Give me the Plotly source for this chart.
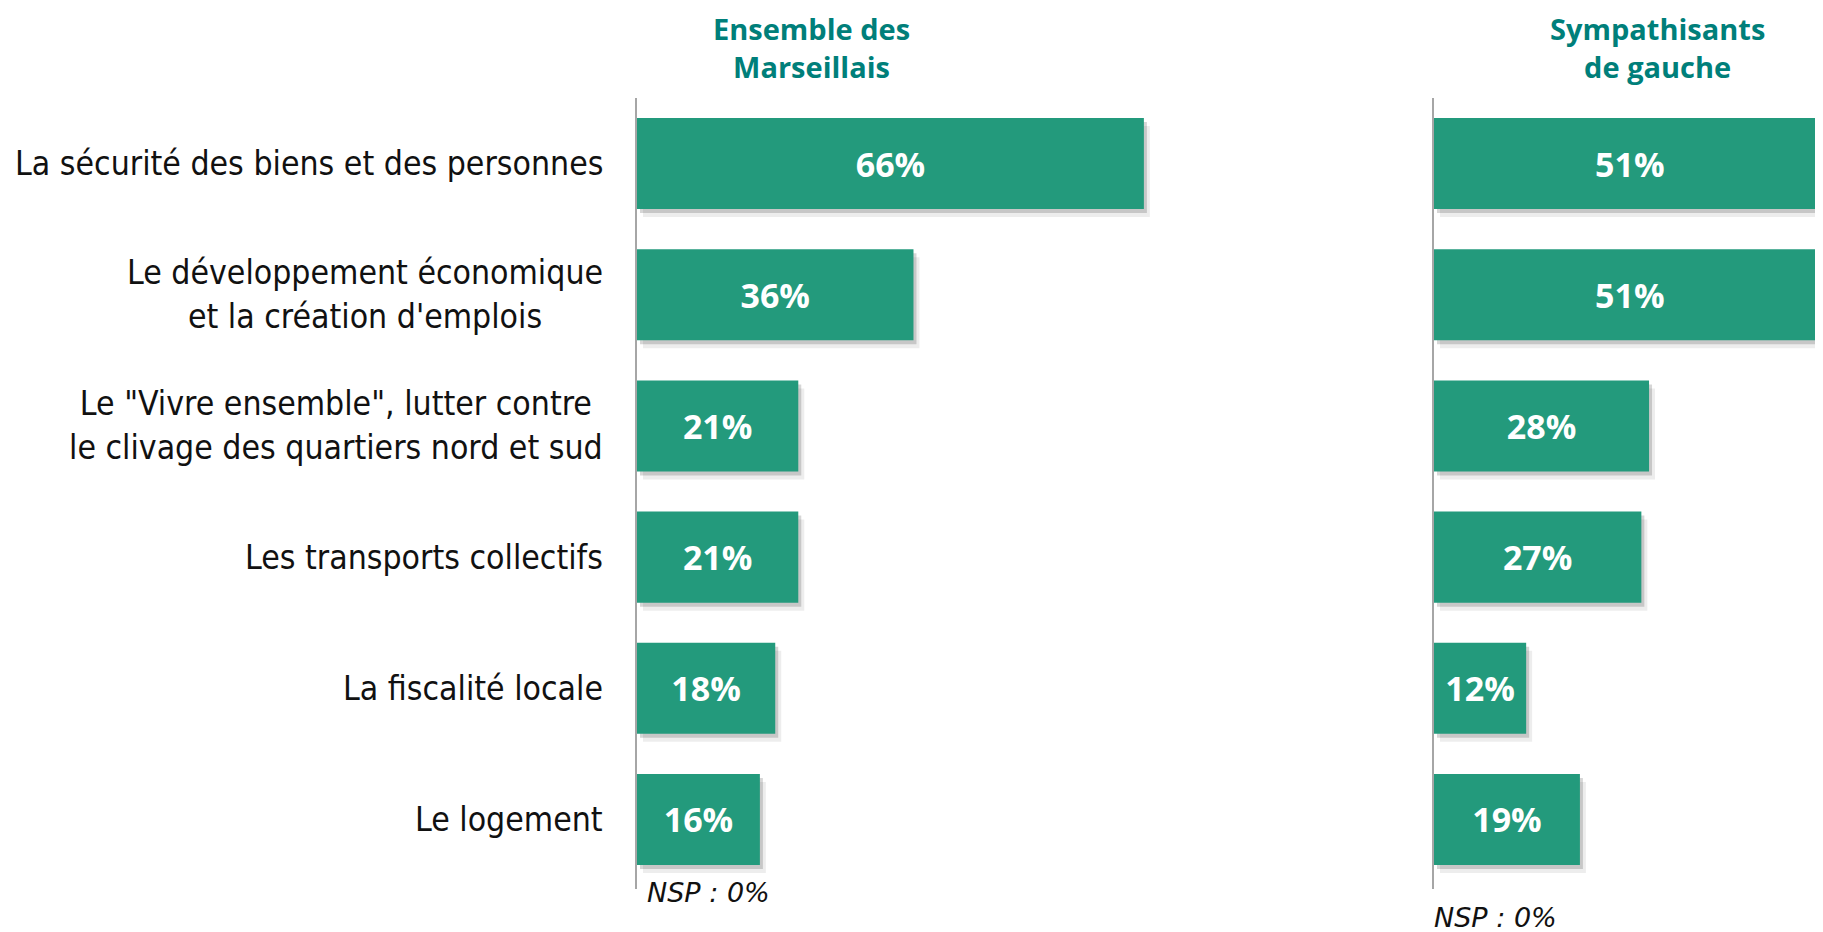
import plotly.graph_objects as go

W, H = 1823, 932
OFF = 8  # page body margin of the html page
FW, FH = W - OFF, H - OFF

categories = [
    "La sécurité des biens et des personnes",
    "Le développement économique<br>et la création d'emplois",
    "Le \"Vivre ensemble\", lutter contre<br>le clivage des quartiers nord et sud",
    "Les transports collectifs",
    "La fiscalité locale",
    "Le logement",
]
ensemble_values = [66, 36, 21, 21, 18, 16]
gauche_values = [51, 51, 28, 27, 12, 19]
panel_titles = ["Ensemble des<br>Marseillais", "Sympathisants<br>de gauche"]
nsp_text = "NSP : 0%"

BAR = "#239A7C"
TEAL = "#007F7A"
AXIS = "#A6A6A6"
LABEL_FONT = "Tahoma, 'DejaVu Sans Condensed', 'Liberation Sans', sans-serif"

px_per_pct = 7.68
left_x0, left_x1 = 637, 1150
right_x0 = 1434
y_top, y_bot = 98, 889
y_extra = 0.53
n = len(categories)
cat_px = (y_bot - y_top) / (n - 1 + y_extra + 0.5)
bar_w = 0.694


def px(x):
    return (x - OFF) / FW


def py(y):
    return 1 - (y - OFF) / FH


fig = go.Figure()
ypos = list(range(n))
for vals, xa, ya in [(ensemble_values, "x", "y"), (gauche_values, "x2", "y2")]:
    # soft drop shadow (two translucent layers behind the bars)
    for dx, dy, alpha in [(6, 8, 0.07), (3, 4, 0.16)]:
        fig.add_trace(go.Bar(
            y=ypos, x=vals, base=dx / px_per_pct, orientation="h",
            xaxis=xa, yaxis=ya, width=bar_w, offset=-bar_w / 2 + dy / cat_px,
            marker=dict(color=f"rgba(0,0,0,{alpha})", line=dict(width=0)),
            hoverinfo="skip", showlegend=False,
        ))
    fig.add_trace(go.Bar(
        y=ypos, x=vals, orientation="h",
        xaxis=xa, yaxis=ya, width=bar_w, offset=-bar_w / 2,
        marker=dict(color=BAR, line=dict(width=0)),
        texttemplate="%{x}%", textposition="inside", insidetextanchor="middle",
        constraintext="none",
        textfont=dict(color="white", size=34, family="'Open Sans', sans-serif", weight="bold"),
        cliponaxis=True, hoverinfo="skip", showlegend=False,
    ))

yax = dict(range=[n - 1 + y_extra, -0.5], domain=[py(y_bot), py(y_top)],
           showline=True, linecolor=AXIS, linewidth=2, showticklabels=False,
           showgrid=False, zeroline=False, ticks="")
fig.update_layout(
    width=FW, height=FH, margin=dict(l=0, r=0, t=0, b=0),
    paper_bgcolor="white", plot_bgcolor="white", barmode="overlay",
    xaxis=dict(domain=[px(left_x0), px(left_x1)], range=[0, (left_x1 - left_x0) / px_per_pct],
               visible=False, anchor="y"),
    xaxis2=dict(domain=[px(right_x0), 1.0], range=[0, (W - right_x0) / px_per_pct],
                visible=False, anchor="y2"),
    yaxis=dict(anchor="x", **yax),
    yaxis2=dict(anchor="x2", **yax),
)

# category labels
for i, lab in enumerate(categories):
    fig.add_annotation(text=lab, xref="paper", x=px(605), xanchor="right", align="center",
                       yref="y", y=i, yanchor="middle", showarrow=False,
                       font=dict(size=33.5, color="#111111", family=LABEL_FONT))

# panel titles
for t, cx in zip(panel_titles, [811, 1657]):
    fig.add_annotation(text=f"<b>{t}</b>", xref="paper", x=px(cx), xanchor="center",
                       yref="paper", y=py(47.5), yanchor="middle", showarrow=False, align="center",
                       font=dict(size=29, color=TEAL, family="'Open Sans', sans-serif"))

# NSP notes
for nx, ny in [(645, 892), (1432, 917)]:
    fig.add_annotation(text=f"<i>{nsp_text}</i>", xref="paper", x=px(nx), xanchor="left",
                       yref="paper", y=py(ny), yanchor="middle", showarrow=False,
                       font=dict(size=27, color="#111111", family="'DejaVu Sans', Verdana, sans-serif"))

fig.write_html("out.html")
